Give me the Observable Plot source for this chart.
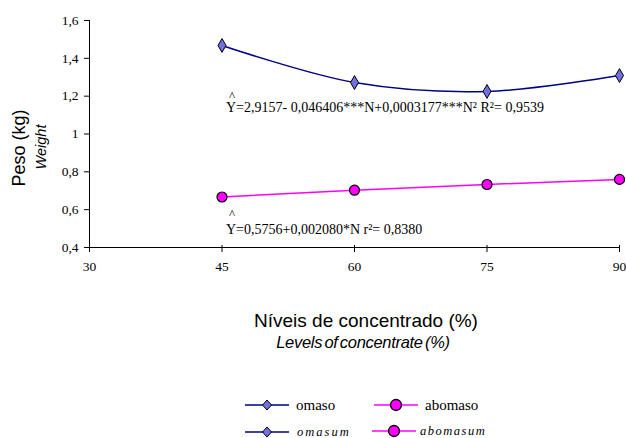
<!DOCTYPE html>
<html><head><meta charset="utf-8">
<script src="https://cdn.jsdelivr.net/npm/d3@7"></script>
<script src="https://cdn.jsdelivr.net/npm/@observablehq/plot@0.6"></script>
<style>
body{margin:0;background:#fff;}
#wrap{position:relative;width:626px;height:438px;overflow:hidden;background:#fff;}
#chart{position:absolute;left:0;top:0;}
#chart svg{overflow:visible;}
#chart svg text{font-family:"Liberation Serif","Times New Roman",serif !important;}
.abs{position:absolute;white-space:nowrap;color:#000;}
.sans{font-family:"Liberation Sans",Arial,sans-serif;}
.serif{font-family:"Liberation Serif","Times New Roman",serif;}
</style></head><body>
<div id="wrap">
  <div id="chart"></div>
  <div class="abs sans" style="left:19px;top:148px;font-size:18px;transform:translate(-50%,-50%) rotate(-90deg);">Peso (kg)</div>
  <div class="abs sans" style="left:41px;top:147px;font-size:14.5px;font-style:italic;transform:translate(-50%,-50%) rotate(-90deg);">Weight</div>
  <div class="abs sans" style="left:366px;top:321px;font-size:19px;transform:translate(-50%,-50%);">Níveis de concentrado (%)</div>
  <div class="abs sans" style="left:363px;top:342px;font-size:16.5px;font-style:italic;letter-spacing:-0.3px;word-spacing:-2px;transform:translate(-50%,-50%);">Levels of concentrate (%)</div>
  <div id="legend"></div>
</div>
<script>
const levels = [45, 60, 75, 90];
const omaso = [1.468, 1.272, 1.225, 1.309];
const abomaso = [0.667, 0.703, 0.733, 0.760];
const xTicks = [30, 45, 60, 75, 90];
const yTicks = [0.4, 0.6, 0.8, 1.0, 1.2, 1.4, 1.6];
const seriesNames = ["omaso", "abomaso"];
const seriesNamesEn = ["omasum", "abomasum"];
const eqOmaso = "Y=2,9157- 0,046406***N+0,0003177***N² R²= 0,9539";
const eqAbomaso = "Y=0,5756+0,002080*N r²= 0,8380";
const eqAnchorX = [45, 45];
const eqAnchorY = [1.14, 0.495];

const omasoData = levels.map((x, i) => ({x, y: omaso[i]}));
const abomasoData = levels.map((x, i) => ({x, y: abomaso[i]}));
const eqData = [
  {x: eqAnchorX[0], y: eqAnchorY[0], t: eqOmaso, hatDy: -12},
  {x: eqAnchorX[1], y: eqAnchorY[1], t: eqAbomaso, hatDy: -16}
];
const fmt = d => String(d).replace(".", ",");

const blue = "#000080", blueFill = "#7070e0", mag = "#ff00ff";

const plot = Plot.plot({
  width: 626, height: 280,
  marginLeft: 89, marginRight: 7, marginTop: 20, marginBottom: 33,
  style: {fontSize: "13.5px", background: "transparent", color: "#000"},
  x: {domain: [30, 90], label: null},
  y: {domain: [0.4, 1.6], label: null},
  marks: [
    Plot.axisX({ticks: xTicks, tickFormat: fmt, tickSize: 5, tickPadding: 9, fontSize: 13.5, label: null}),
    Plot.axisY({ticks: yTicks, tickFormat: fmt, tickSize: 5, tickPadding: 6, fontSize: 13.5, label: null}),
    Plot.ruleX(xTicks, {x: d => d, y1: 0.4, y2: 0.4, insetTop: -2, insetBottom: 0, stroke: "#000"}),
    Plot.line(omasoData, {x: "x", y: "y", stroke: blue, strokeWidth: 1.5, curve: "catmull-rom"}),
    Plot.line(abomasoData, {x: "x", y: "y", stroke: mag, strokeWidth: 1.5}),
    Plot.dot(omasoData, {x: "x", y: "y", symbol: "diamond", r: 4.2, fill: blueFill, stroke: "#000", strokeWidth: 1}),
    Plot.dot(abomasoData, {x: "x", y: "y", symbol: "circle", r: 5, fill: mag, stroke: "#000", strokeWidth: 1.2}),
    Plot.ruleX([30], {y1: 0.4, y2: 1.6, stroke: "#000"}),
    Plot.ruleY([0.4], {x1: 30, x2: 90, stroke: "#000"}),
    Plot.text(eqData, {x: "x", y: "y", text: "t", textAnchor: "start", dx: 4, fontSize: 14}),
    Plot.text(eqData, {x: "x", y: "y", text: d => "^", textAnchor: "start", dx: 7, fontSize: 13})
  ]
});
document.getElementById("chart").appendChild(plot);
// shift the regression carets (^) above the Y of each equation
d3.select(plot).selectAll("text").filter(function(){ return this.textContent === "^"; })
  .each(function(_, i){
    const el = d3.select(this);
    const tr = el.attr("transform") || "";
    el.attr("transform", tr + ` translate(0,${eqData[i].hatDy})`);
  });

// legend
const leg = document.getElementById("legend");
function legendItem(left, top, color, symbol, label, italic, spacing) {
  const d = document.createElement("div");
  d.className = "abs";
  d.style.left = left + "px"; d.style.top = (top - 10) + "px";
  d.style.display = "flex"; d.style.alignItems = "center";
  let sym;
  if (symbol === "diamond") sym = `<path d="M22,5 L26.5,10 L22,15 L17.5,10 Z" fill="${blueFill}" stroke="#000" stroke-width="1"/>`;
  else sym = `<circle cx="22" cy="10" r="5.5" fill="${mag}" stroke="#000" stroke-width="1.3"/>`;
  const s = `<svg width="44" height="20"><line x1="0" x2="44" y1="10" y2="10" stroke="${color}" stroke-width="1.6"/>${sym}</svg>`;
  const txt = italic
    ? `<span class="serif" style="font-size:12.5px;font-style:italic;letter-spacing:${spacing}px;margin-left:${symbol === "circle" ? 4 : 8}px">${label}</span>`
    : `<span class="serif" style="font-size:15px;margin-left:7px">${label}</span>`;
  d.innerHTML = s + txt;
  leg.appendChild(d);
}
legendItem(245, 405, blue, "diamond", seriesNames[0], false);
legendItem(374, 405, mag, "circle", seriesNames[1], false);
legendItem(245, 432, blue, "diamond", seriesNamesEn[0], true, 2);
legendItem(372, 431, mag, "circle", seriesNamesEn[1], true, 1.5);
</script>
</body></html>
